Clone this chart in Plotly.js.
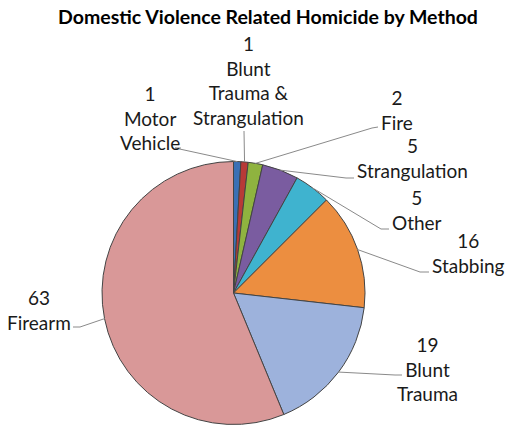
<!DOCTYPE html>
<html>
<head>
<meta charset="utf-8">
<script src="https://cdn.plot.ly/plotly-3.0.1.min.js"></script>
<style>html,body{margin:0;padding:0;background:#fff;}#chart{width:506px;height:431px;}</style>
</head>
<body>
<div id="chart"></div>
<script>
// ---- data ----
const methods = ["Motor Vehicle", "Blunt Trauma & Strangulation", "Fire", "Strangulation", "Other", "Stabbing", "Blunt Trauma", "Firearm"];
const wrappedLabels = ["Motor<br>Vehicle", "Blunt<br>Trauma &<br>Strangulation", "Fire", "Strangulation", "Other", "Stabbing", "Blunt<br>Trauma", "Firearm"];
const counts = [1, 1, 2, 5, 5, 16, 19, 63];
const colors = ["#3a70b5", "#b83a37", "#8fb33f", "#7a5ca0", "#3fb3cf", "#ec8e40", "#9db2dc", "#d99898"];

// ---- layout (pixels) ----
const W = 506, H = 431;
const cx = 233.5, cy = 293, R = 131.5;
// label block centers
const labelPos = [[150,118],[248,80],[397,110],[412,158],[417,210],[468,253],[427,369],[39,310]];
// leader-line anchor at label, and elbow point
const anchorPt = [[181,148],[244,131],[378,127],[354,178],[389,229],[429,272],[402,375],[73,327]];
const elbowPt  = [[175,148],[244,131],[372,128],[346,178],[381,229],[420,272],[395,375],[80,327]];

const px = x => x / W;
const py = y => 1 - y / H;

const total = counts.reduce((a,b)=>a+b,0);
const shapes = [];
const annotations = [];
let cum = 0;
counts.forEach((v,i) => {
  const mid = (cum + v/2) / total * 2 * Math.PI;
  cum += v;
  const ex = cx + R * Math.sin(mid);
  const ey = cy - R * Math.cos(mid);
  shapes.push({
    type: 'path', xref: 'paper', yref: 'paper',
    path: `M ${px(ex)} ${py(ey)} L ${px(elbowPt[i][0])} ${py(elbowPt[i][1])} L ${px(anchorPt[i][0])} ${py(anchorPt[i][1])}`,
    line: {color: '#8a8a8a', width: 1}
  });
  annotations.push({
    xref: 'paper', yref: 'paper',
    x: px(labelPos[i][0]), y: py(labelPos[i][1]),
    xanchor: 'center', yanchor: 'middle',
    text: v + '<br>' + wrappedLabels[i],
    showarrow: false, align: 'center',
    font: {family: 'Lato, "Open Sans", sans-serif', size: 19, color: '#1a1a1a'}
  });
});

const trace = {
  type: 'pie',
  labels: methods,
  values: counts,
  sort: false,
  direction: 'clockwise',
  rotation: 0,
  textinfo: 'none',
  hoverinfo: 'label+value',
  marker: {colors: colors, line: {color: '#444444', width: 1}},
  domain: {x: [px(cx - R), px(cx + R)], y: [py(cy + R), py(cy - R)]},
  showlegend: false
};

const layout = {
  width: W, height: H,
  margin: {l: 0, r: 0, t: 0, b: 0},
  paper_bgcolor: '#ffffff',
  title: {
    text: '<b>Domestic Violence Related Homicide by Method</b>',
    x: px(268), xanchor: 'center', y: py(17), yanchor: 'middle',
    font: {family: 'Lato, "Open Sans", sans-serif', size: 19.5, color: '#000000'}
  },
  shapes: shapes,
  annotations: annotations,
  showlegend: false
};

Plotly.newPlot('chart', [trace], layout, {displayModeBar: false, staticPlot: true});
</script>
</body>
</html>
